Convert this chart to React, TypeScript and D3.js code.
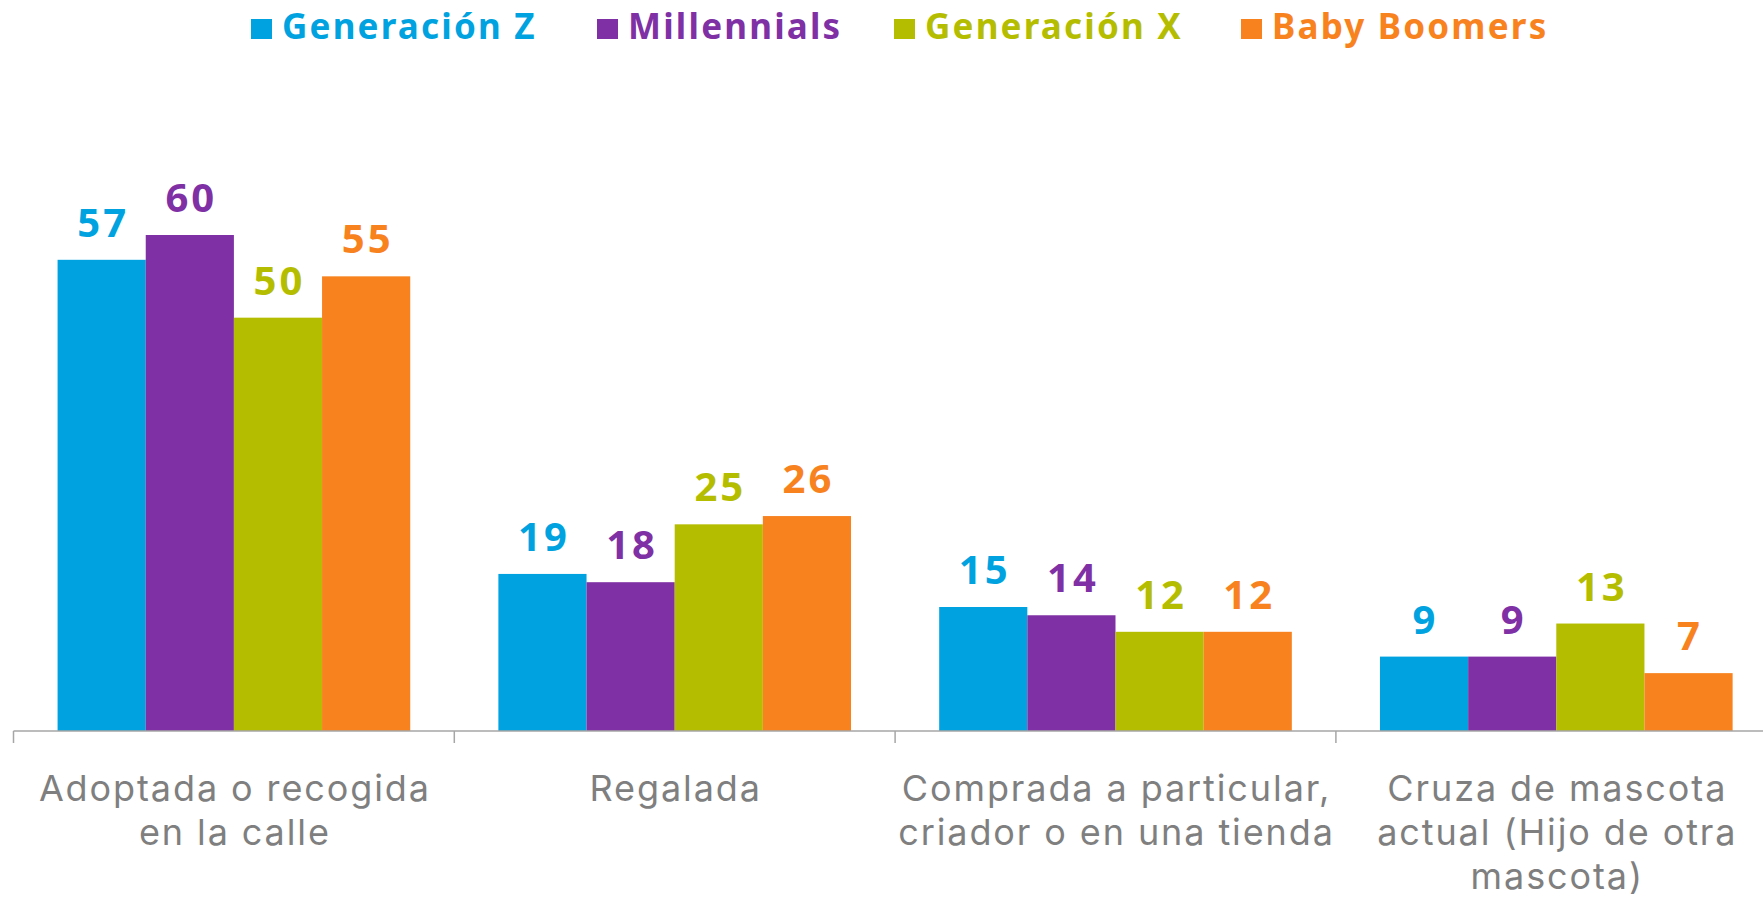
import React from "react";
import * as d3 from "d3";

const categories = [
  "Adoptada o recogida|en la calle",
  "Regalada",
  "Comprada a particular,|criador o en una tienda",
  "Cruza de mascota|actual (Hijo de otra|mascota)",
];
const series = ["Generación Z", "Millennials", "Generación X", "Baby Boomers"];
const colors = ["#00a3e0", "#7f30a5", "#b5bd00", "#f7821e"];
const genZ = [57, 19, 15, 9];
const millennials = [60, 18, 14, 9];
const genX = [50, 25, 12, 13];
const boomers = [55, 26, 12, 7];
const values = [genZ, millennials, genX, boomers];

const W = 1763;
const H = 899;
const baseY = 731;
const font = "'Noto Sans', sans-serif";
const labelFont = "Inter, 'Noto Sans', sans-serif";

const App = () => {
  const bandW = 440.8;
  const x0 = d3
    .scaleBand()
    .domain(categories)
    .range([13.5, 13.5 + bandW * categories.length])
    .padding(0);
  const x1 = d3
    .scaleBand()
    .domain(series)
    .range([0, x0.bandwidth()])
    .paddingInner(0)
    .paddingOuter(0.5);
  const y = d3.scaleLinear().domain([0, 60]).range([baseY, 235]);

  // legend layout (x of the square, text follows)
  const legendX = [251, 597, 894, 1241];

  return (
    <div style={{ position: "absolute", left: 0, top: 0 }}>
      <svg width={W} height={H} style={{ display: "block" }}>
        <rect width={W} height={H} fill="#fff" />
        <g className="legend">
          {series.map((s, i) => (
            <g key={s} transform={`translate(${legendX[i]},0)`}>
              <rect x={0} y={19} width={21} height={20} fill={colors[i]} />
              <text
                x={31}
                y={39}
                fill={colors[i]}
                fontFamily={font}
                fontWeight="bold"
                fontSize={35}
                letterSpacing={2.2}
              >
                {s}
              </text>
            </g>
          ))}
        </g>

        <g className="bars">
          {categories.map((c, ci) => (
            <g key={c} transform={`translate(${x0(c)},0)`}>
              {series.map((s, si) => {
                const v = values[si][ci];
                const bx = x1(s) as number;
                return (
                  <g key={s}>
                    <rect
                      x={bx}
                      y={y(v)}
                      width={x1.bandwidth()}
                      height={baseY - y(v)}
                      fill={colors[si]}
                    />
                    <text
                      x={bx + x1.bandwidth() / 2 + 1.5}
                      y={y(v) - 23}
                      textAnchor="middle"
                      fill={colors[si]}
                      fontFamily={font}
                      fontWeight="bold"
                      fontSize={40}
                      letterSpacing={3}
                    >
                      {v}
                    </text>
                  </g>
                );
              })}
            </g>
          ))}
        </g>

        <g className="x axis">
          <line
            x1={x0.range()[0]}
            x2={x0.range()[1]}
            y1={baseY}
            y2={baseY}
            stroke="#a6a6a6"
            strokeWidth={1.5}
          />
          {categories.map((c) => (
            <line
              key={c}
              x1={x0(c)}
              x2={x0(c)}
              y1={baseY}
              y2={baseY + 12}
              stroke="#a6a6a6"
              strokeWidth={1.5}
            />
          ))}
          {categories.map((c) => (
            <text
              key={c}
              textAnchor="middle"
              fill="#7f7f7f"
              fontFamily={labelFont}
              fontSize={36}
              letterSpacing={1.9}
            >
              {c.split("|").map((line, li) => (
                <tspan
                  key={li}
                  x={(x0(c) as number) + x0.bandwidth() / 2 + 1}
                  y={801 + li * 44}
                >
                  {line}
                </tspan>
              ))}
            </text>
          ))}
        </g>
      </svg>
    </div>
  );
};

export default App;
